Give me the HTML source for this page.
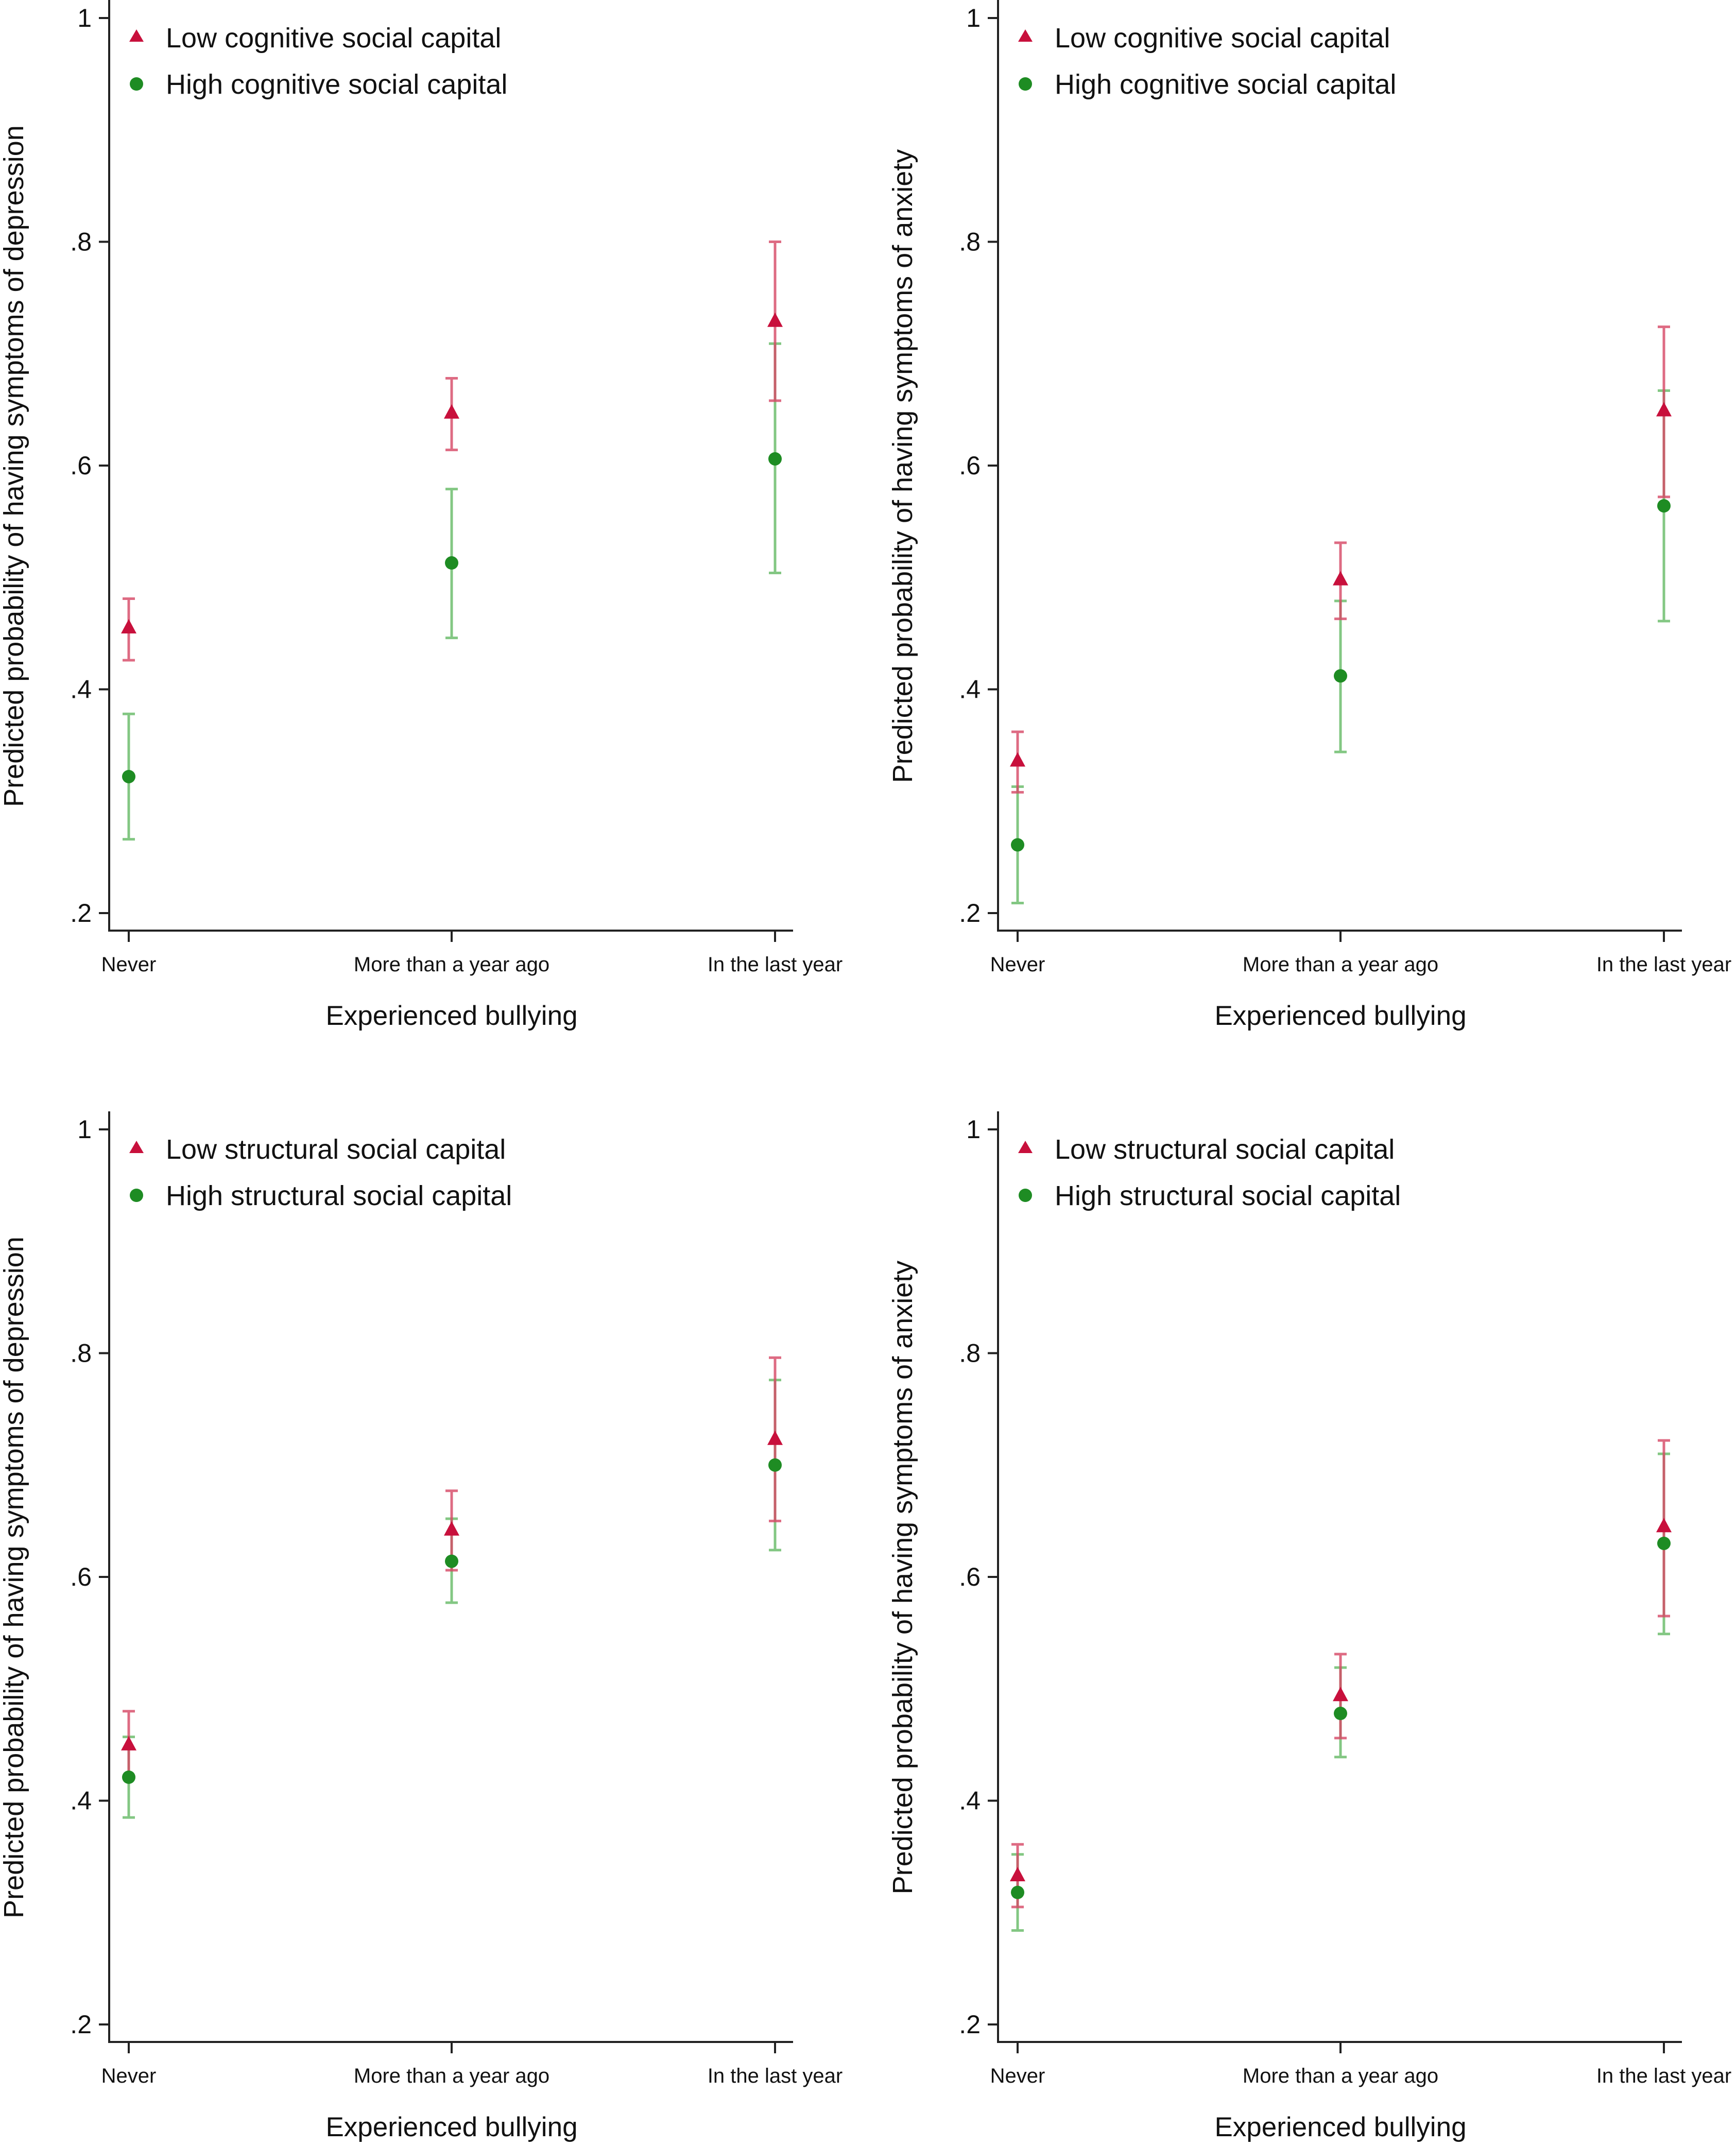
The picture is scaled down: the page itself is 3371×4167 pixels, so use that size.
<!DOCTYPE html>
<html><head><meta charset="utf-8"><style>
html,body{margin:0;padding:0;background:#fff}
svg{display:block;font-family:"Liberation Sans","DejaVu Sans",sans-serif}
</style></head><body>
<svg id="chart" width="3371" height="4167" viewBox="0 0 3371 4167" xmlns="http://www.w3.org/2000/svg"></svg>
<script>
const categories = ["Never","More than a year ago","In the last year"];
const yTicks = [0.2,0.4,0.6,0.8,1];
const yTickLabels = [".2",".4",".6",".8","1"];
const titlesY = ["Predicted probability of having symptoms of depression","Predicted probability of having symptoms of anxiety","Predicted probability of having symptoms of depression","Predicted probability of having symptoms of anxiety"];
const legendLow = ["Low cognitive social capital","Low cognitive social capital","Low structural social capital","Low structural social capital"];
const legendHigh = ["High cognitive social capital","High cognitive social capital","High structural social capital","High structural social capital"];
const lowVals = [[0.455,0.647,0.729],[0.336,0.498,0.649],[0.450,0.642,0.723],[0.333,0.494,0.645]];
const lowLo = [[0.426,0.614,0.658],[0.308,0.463,0.572],[0.420,0.606,0.650],[0.305,0.456,0.565]];
const lowHi = [[0.481,0.678,0.800],[0.362,0.531,0.724],[0.480,0.677,0.796],[0.361,0.531,0.722]];
const highVals = [[0.322,0.513,0.606],[0.261,0.412,0.564],[0.421,0.614,0.700],[0.318,0.478,0.630]];
const highLo = [[0.266,0.446,0.504],[0.209,0.344,0.461],[0.385,0.577,0.624],[0.284,0.439,0.549]];
const highHi = [[0.378,0.579,0.709],[0.313,0.479,0.667],[0.457,0.652,0.776],[0.352,0.519,0.710]];

const svg = document.getElementById('chart');
const NS = "http://www.w3.org/2000/svg";
function mk(tag, attrs, parent){const e=document.createElementNS(NS,tag);for(const k in attrs)e.setAttribute(k,attrs[k]);(parent||svg).appendChild(e);return e;}
const offsets=[[0,0],[1726,0],[0,2158],[1726,2158]];
const RED="#c8103c", REDBAR="rgba(214,70,100,0.8)", GREEN="#1e8c23", GREENBAR="rgba(90,180,90,0.75)";
offsets.forEach(([ox,oy],p)=>{
  const g=mk('g',{transform:`translate(${ox},${oy})`});
  
  
  const y=v=>1773-(v-0.2)/0.8*(1773-35);
  const xs=[250,877,1505];
  const x=i=>xs[i];
  const ax=mk('path',{d:"M212 0 V1807 H1540",stroke:"#222",'stroke-width':4,fill:"none"},g);
  
  yTicks.forEach((t,i)=>{
    mk('line',{x1:192,x2:212,y1:y(t),y2:y(t),stroke:"#222",'stroke-width':4},g);
    const tx=mk('text',{x:178,y:y(t)+17,'text-anchor':'end','font-size':50,fill:"#111"},g);
    tx.textContent=yTickLabels[i];
    
  });
  categories.forEach((c,i)=>{
    mk('line',{x1:x(i),x2:x(i),y1:1807,y2:1829,stroke:"#222",'stroke-width':4},g);
    const tx=mk('text',{x:x(i),y:1886,'text-anchor':'middle','font-size':40,fill:"#111"},g);
    tx.textContent=c;
    
  });
  const xt=mk('text',{x:877,y:1990,'text-anchor':'middle','font-size':53,fill:"#111"},g);
  xt.textContent="Experienced bullying";
  
  const yt=mk('text',{x:0,y:0,'text-anchor':'middle','font-size':54,fill:"#111",transform:`translate(45,905) rotate(-90)`},g);
  yt.textContent=titlesY[p];
  
  function bars(lo,hi,col){lo.forEach((l,i)=>{
    const b=mk('path',{d:`M${x(i)} ${y(l)} V${y(hi[i])} M${x(i)-12} ${y(l)} H${x(i)+12} M${x(i)-12} ${y(hi[i])} H${x(i)+12}`,stroke:col,'stroke-width':5,fill:"none"},g);
    
  });}
  bars(highLo[p],highHi[p],GREENBAR);
  bars(lowLo[p],lowHi[p],REDBAR);
  highVals[p].forEach((v,i)=>{
    const c=mk('circle',{cx:x(i),cy:y(v),r:13,fill:GREEN},g);
    
  });
  lowVals[p].forEach((v,i)=>{
    const cx=x(i),cy=y(v);
    const t=mk('polygon',{points:`${cx},${cy-17} ${cx-15},${cy+11} ${cx+15},${cy+11}`,fill:RED},g);
    
  });
  const l1=mk('polygon',{points:"265,57 251,81 279,81",fill:RED},g);
  
  const lt1=mk('text',{x:322,y:92,'font-size':54,fill:"#111"},g);lt1.textContent=legendLow[p];
  
  const l2=mk('circle',{cx:265,cy:163,r:13,fill:GREEN},g);
  
  const lt2=mk('text',{x:322,y:182,'font-size':54,fill:"#111"},g);lt2.textContent=legendHigh[p];
  
});
</script>
</body></html>
